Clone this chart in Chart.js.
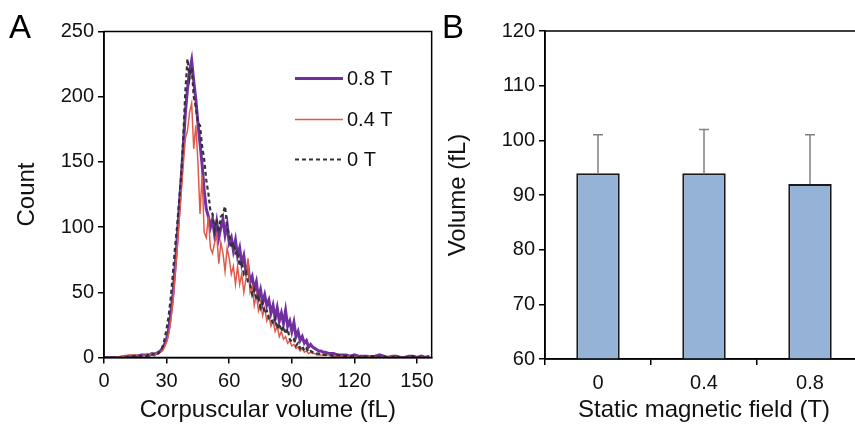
<!DOCTYPE html>
<html>
<head>
<meta charset="utf-8">
<script src="https://cdn.jsdelivr.net/npm/chart.js@4"></script>
<style>
html, body { margin: 0; padding: 0; background: #fff; overflow: hidden; width: 855px; height: 446px; }
#wrapA { position: absolute; left: 0; top: 0; width: 440px; height: 446px; }
#wrapB { position: absolute; left: 440px; top: 0; width: 430px; height: 446px; }
.panel { position: absolute; font-family: "Liberation Sans", Arial, sans-serif; font-size: 33px; color: #000; }
</style>
</head>
<body>
<div id="wrapA"><canvas id="chartA"></canvas></div>
<div id="wrapB"><canvas id="chartB"></canvas></div>
<div class="panel" style="left:9px;top:8px">A</div>
<div class="panel" style="left:442px;top:8px">B</div>
<script>
// Panel A: histogram of corpuscular volume (fL)
const volumeBins = [
  0, 2, 4, 6, 8, 10, 12, 14, 16, 18,
  20, 21, 22, 23, 24, 25, 26, 27, 28, 29,
  30, 31, 32, 33, 34, 35, 36, 37, 38, 39,
  40, 41, 42, 43, 44, 45, 46, 47, 48, 49,
  50, 51, 52, 53, 54, 55, 56, 57, 58, 59,
  60, 61, 62, 63, 64, 65, 66, 67, 68, 69,
  70, 71, 72, 73, 74, 75, 76, 77, 78, 79,
  80, 81, 82, 83, 84, 85, 86, 87, 88, 89,
  90, 91, 92, 93, 94, 95, 96, 97, 98, 99,
  100, 101, 102, 103, 104, 105,
  106, 108, 110, 112, 114, 116, 118, 120, 122, 124, 126, 128, 130,
  132, 134, 136, 138, 140, 142, 144, 146, 148, 150, 152, 154, 156
];
const count08T = [
  0, 0, 0, 0, 0, 1, 1, 1, 1, 2,
  2, 1, 2, 3, 2, 3, 4, 5, 7, 10,
  14, 22, 34, 48, 68, 90, 114, 138, 162, 188,
  206, 220, 228, 212, 198, 180, 164, 148, 128, 114,
  108, 100, 106, 94, 104, 92, 100, 106, 94, 102,
  88, 92, 82, 90, 78, 84, 72, 78, 66, 70,
  58, 62, 52, 58, 46, 52, 42, 48, 40, 44,
  34, 40, 30, 38, 28, 34, 26, 36, 24, 28,
  20, 27, 16, 20, 13, 16, 11, 13, 8, 10,
  8, 7, 6, 5, 5, 4,
  4, 3, 3, 2, 2, 2, 1, 2, 1, 1, 1, 0, 1,
  2, 1, 0, 1, 1, 0, 0, 1, 1, 0, 1, 0, 1
];
const count04T = [
  0, 0, 0, 0, 1, 1, 2, 2, 2, 1,
  2, 3, 2, 3, 2, 3, 3, 4, 5, 8,
  12, 18, 28, 42, 62, 82, 104, 126, 148, 168,
  174, 188, 195, 160, 178, 150, 110, 140, 96, 92,
  108, 84, 80, 88, 94, 72, 88, 80, 66, 84,
  76, 64, 70, 56, 70, 56, 64, 50, 60, 76,
  50, 54, 40, 48, 36, 42, 32, 38, 28, 32,
  24, 28, 20, 24, 16, 20, 14, 16, 11, 13,
  9, 10, 7, 8, 5, 7, 4, 5, 3, 4,
  3, 3, 2, 2, 2, 2,
  2, 2, 1, 1, 1, 1, 1, 0, 1, 0, 0, 1, 0,
  0, 0, 0, 1, 0, 0, 0, 0, 0, 0, 0, 0, 0
];
const count0T = [
  0, 0, 0, 0, 0, 0, 1, 1, 2, 1,
  1, 2, 1, 2, 3, 2, 3, 5, 8, 14,
  22, 32, 46, 64, 84, 100, 120, 139, 170, 205,
  229, 214, 222, 200, 192, 180, 178, 162, 152, 136,
  126, 112, 110, 98, 106, 96, 108, 110, 116, 100,
  94, 84, 88, 80, 82, 70, 74, 64, 66, 58,
  56, 48, 52, 44, 48, 38, 42, 34, 36, 30,
  30, 26, 30, 22, 26, 20, 24, 18, 22, 14,
  12, 14, 9, 11, 7, 9, 5, 7, 4, 5,
  4, 3, 3, 3, 2, 2,
  2, 2, 1, 2, 1, 1, 1, 1, 0, 1, 0, 1, 1,
  0, 1, 0, 0, 1, 0, 0, 0, 1, 0, 0, 0, 0
];
const seriesLabels = ['0.8 T', '0.4 T', '0 T'];

// Panel B: mean volume per field strength
const fieldLabels = ['0', '0.4', '0.8'];
const meanVolume = [94, 94, 92];
const volumeSD = [7, 8, 9];

Chart.defaults.font.family = '"Liberation Sans", Arial, sans-serif';
Chart.defaults.color = '#111';

const pts = ys => volumeBins.map((x, i) => ({ x: x, y: ys[i] }));

const frame = {
  id: 'frame',
  afterDraw(chart) {
    const { ctx, chartArea: a } = chart;
    ctx.save();
    ctx.strokeStyle = '#000';
    ctx.lineWidth = 1.5;
    ctx.strokeRect(a.left, a.top, a.right - a.left, a.bottom - a.top);
    ctx.restore();
  }
};

// legend drawn inside plot area, upper right
const innerLegend = {
  id: 'innerLegend',
  afterDatasetsDraw(chart) {
    const { ctx, chartArea: a } = chart;
    const rows = [47, 88, 128];
    ctx.save();
    chart.data.datasets.forEach((ds, i) => {
      const y = a.top + rows[i];
      const x0 = a.left + 191, x1 = a.left + 239;
      ctx.strokeStyle = ds.borderColor;
      ctx.lineWidth = ds.borderWidth;
      ctx.setLineDash(ds.borderDash || []);
      ctx.beginPath();
      ctx.moveTo(x0, y);
      ctx.lineTo(x1, y);
      ctx.stroke();
      ctx.setLineDash([]);
      ctx.fillStyle = '#111';
      ctx.font = '20px "Liberation Sans", Arial, sans-serif';
      ctx.textBaseline = 'middle';
      ctx.fillText(ds.label, x1 + 4, y + 1);
    });
    ctx.restore();
  }
};

const axisCommon = {
  grid: { drawOnChartArea: false, tickLength: 6, color: '#000', lineWidth: 1.5 },
  border: { color: '#000', width: 1.5 }
};

new Chart(document.getElementById('chartA'), {
  type: 'line',
  data: {
    datasets: [
      { label: seriesLabels[0], data: pts(count08T), borderColor: '#7030A0', borderWidth: 3, order: 3 },
      { label: seriesLabels[1], data: pts(count04T), borderColor: '#DE5B4C', borderWidth: 1.5, order: 2 },
      { label: seriesLabels[2], data: pts(count0T), borderColor: '#333', borderWidth: 2.2, borderDash: [4, 3], order: 1 }
    ]
  },
  options: {
    responsive: true,
    maintainAspectRatio: false,
    animation: false,
    elements: { point: { radius: 0 }, line: { tension: 0 } },
    layout: { padding: { top: 31.5, right: 6, left: 0, bottom: 0 } },
    plugins: { legend: { display: false }, tooltip: { enabled: false } },
    scales: {
      x: {
        type: 'linear', min: 0, max: 157,
        ...axisCommon,
        ticks: { stepSize: 30, includeBounds: false, padding: 6, font: { size: 20 } },
        title: { display: true, text: 'Corpuscular volume (fL)', font: { size: 24 }, padding: { top: 0, bottom: 21 } },
        afterFit: s => { s.height = 88.5; }
      },
      y: {
        min: 0, max: 250,
        ...axisCommon,
        ticks: { stepSize: 50, padding: 4, font: { size: 20 } },
        title: { display: true, text: 'Count', font: { size: 24 }, padding: { top: 13, bottom: 0 } },
        afterFit: s => { s.width = 104; }
      }
    }
  },
  plugins: [frame, innerLegend]
});

const errorBars = {
  id: 'errorBars',
  afterDatasetsDraw(chart) {
    const { ctx } = chart;
    const yScale = chart.scales.y;
    const meta = chart.getDatasetMeta(0);
    ctx.save();
    ctx.strokeStyle = '#808080';
    ctx.lineWidth = 1.5;
    meta.data.forEach((bar, i) => {
      const yTop = yScale.getPixelForValue(meanVolume[i] + volumeSD[i]);
      ctx.beginPath();
      ctx.moveTo(bar.x, bar.y);
      ctx.lineTo(bar.x, yTop);
      ctx.moveTo(bar.x - 5, yTop);
      ctx.lineTo(bar.x + 5, yTop);
      ctx.stroke();
    });
    ctx.restore();
  }
};

new Chart(document.getElementById('chartB'), {
  type: 'bar',
  data: {
    labels: fieldLabels,
    datasets: [{
      data: meanVolume,
      backgroundColor: '#95B3D7',
      borderColor: '#1a1a1a',
      borderWidth: 2,
      categoryPercentage: 1,
      barPercentage: 0.41
    }]
  },
  options: {
    responsive: true,
    maintainAspectRatio: false,
    animation: false,
    layout: { padding: { top: 31, right: 7, left: 0, bottom: 0 } },
    plugins: { legend: { display: false }, tooltip: { enabled: false } },
    scales: {
      x: {
        ...axisCommon,
        grid: { ...axisCommon.grid, offset: true },
        ticks: { padding: 6, font: { size: 20 } },
        title: { display: true, text: 'Static magnetic field (T)', font: { size: 24 }, padding: { top: 0, bottom: 21 } },
        afterFit: s => { s.height = 87; }
      },
      y: {
        min: 60, max: 120,
        ...axisCommon,
        ticks: { stepSize: 10, padding: 4, font: { size: 20 } },
        title: { display: true, text: 'Volume (fL)', font: { size: 24 }, padding: { top: 4, bottom: 0 } },
        afterFit: s => { s.width = 105; }
      }
    }
  },
  plugins: [frame, errorBars]
});
</script>
</body>
</html>
